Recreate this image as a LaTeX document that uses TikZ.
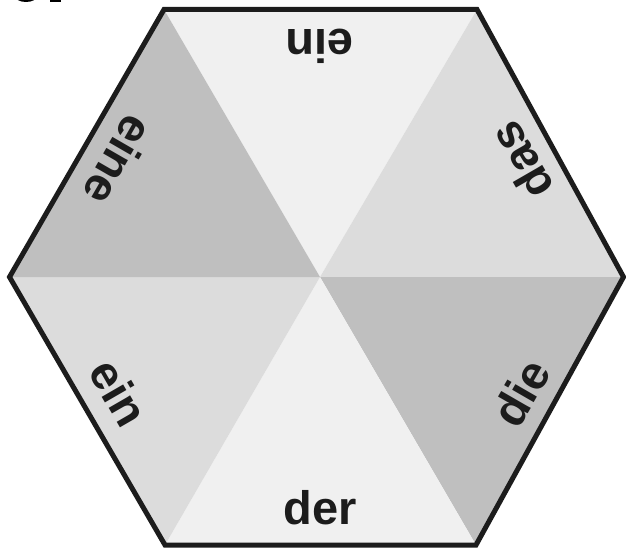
\documentclass[tikz,border=0pt]{standalone}
\usepackage{fontspec}
\setmainfont{Liberation Sans}
\definecolor{triLight}{HTML}{F0F0F0}
\definecolor{triMid}{HTML}{DCDCDC}
\definecolor{triDark}{HTML}{BFBFBF}
\definecolor{edgeInk}{HTML}{1C1C1C}
\begin{document}
\begin{tikzpicture}[x=1pt,y=-1pt,
  word/.style={font=\fontsize{47}{47}\selectfont\bfseries, text=edgeInk, inner sep=0pt}]
\useasboundingbox (0,0) rectangle (626,548);
\clip (0,0) rectangle (626,548);
\coordinate (c) at (320,277);
\coordinate (tl) at (164,9.5);
\coordinate (tr) at (477,9.5);
\coordinate (r) at (623.5,277);
\coordinate (br) at (476,545);
\coordinate (bl) at (165,545);
\coordinate (l) at (9.5,277);
% triangles
\fill[triLight] (c) -- (tl) -- (tr) -- cycle;
\fill[triMid] (c) -- (tr) -- (r) -- cycle;
\fill[triDark] (c) -- (r) -- (br) -- cycle;
\fill[triLight] (c) -- (br) -- (bl) -- cycle;
\fill[triMid] (c) -- (bl) -- (l) -- cycle;
\fill[triDark] (c) -- (l) -- (tl) -- cycle;
% outline
\draw[edgeInk, line width=5pt, line join=miter] (tl) -- (tr) -- (r) -- (br) -- (bl) -- (l) -- cycle;
% labels
\node[word] (w0) at (320,508) {der};
\node[word, rotate=180] (wtop) at (320,46) {ein};
\node[word, rotate=60] (wdie) at (521,393) {die};
\node[word, rotate=120] (wdas) at (521,161) {das};
\node[word, rotate=-120] (weine) at (119,161) {eine};
\node[word, rotate=-60] (wein) at (119,393) {ein};
% cropped fragment at top-left
\fill[black] (26,-4) ellipse [x radius=11, y radius=6];
\fill[black] (50,-3) rectangle (61,2);
\end{tikzpicture}
\end{document}
